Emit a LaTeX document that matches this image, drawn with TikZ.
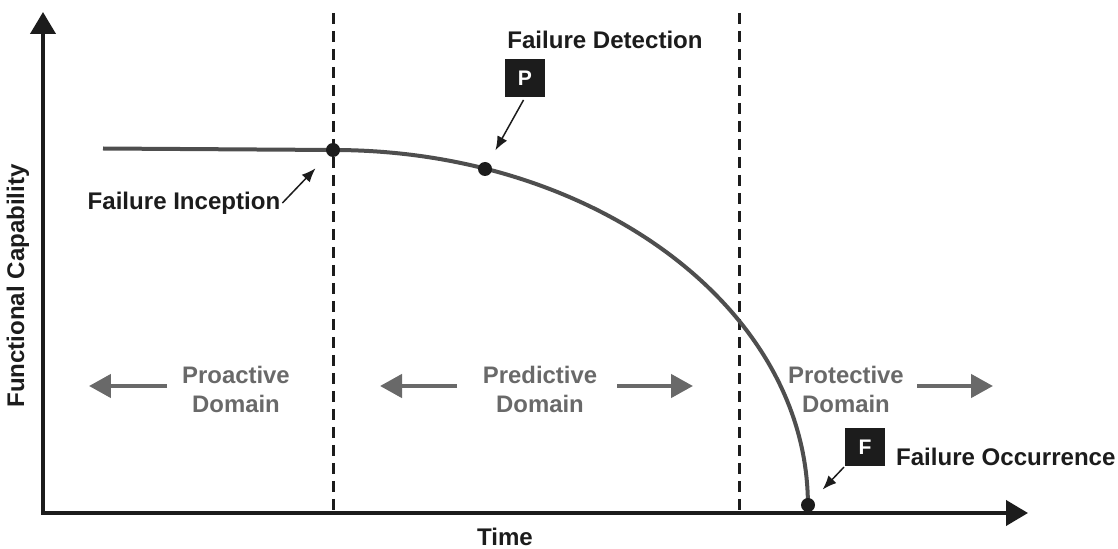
\documentclass[tikz,border=0pt]{standalone}
\usepackage{fontspec}
\setmainfont{Liberation Sans}
\usepackage{tikz}
\usetikzlibrary{arrows.meta,positioning,calc}
\definecolor{inkblack}{RGB}{28,28,28}
\definecolor{curvegray}{RGB}{78,78,78}
\definecolor{domaingray}{RGB}{105,105,105}

\begin{document}
\begin{tikzpicture}[x=0.02cm,y=0.02cm,>=Latex,every node/.style={font=\bfseries\fontsize{13.7}{16.5}\selectfont,text=inkblack,inner sep=1pt}]
\tikzstyle{dot}=[circle,fill=inkblack,inner sep=0pt,minimum size=0.28cm]
\tikzstyle{tag}=[fill=inkblack,text=white,inner sep=0pt,minimum width=0.8cm,minimum height=0.76cm,font=\bfseries\fontsize{12}{14}\selectfont]
\tikzstyle{domainlabel}=[align=center,text=domaingray,font=\bfseries\fontsize{13.6}{16.5}\selectfont]
\tikzstyle{pointer}=[-{Latex[length=0.28cm,width=0.22cm]},inkblack,line width=0.03cm]
\tikzstyle{domarrow}=[-{Triangle[length=0.44cm,width=0.46cm]},domaingray,line width=0.09cm]
\useasboundingbox (0,0) rectangle (1118,548);
% axes
\coordinate (origin) at (43,35);
\coordinate (ytip) at (43,536);
\coordinate (xtip) at (1028,35);
\foreach \x in {333,739}{\draw[inkblack,line width=0.06cm,dash pattern=on 0.22cm off 0.14cm] (\x,535) -- (\x,35);}
\draw[inkblack,line width=0.08cm,{Triangle[length=0.44cm,width=0.5cm]}-{Triangle[length=0.44cm,width=0.5cm]}] (ytip) -- (origin) -- (xtip);
\node[rotate=90] (ylabel) at (18,262) {Functional Capability};
\node (xlabel) at (505,11) {Time};
% capability curve
\draw[curvegray,line width=0.08cm] (103,399.5) -- (333,398) arc[start angle=90,end angle=0,x radius=9.5cm,y radius=7.1cm];
\node[dot] (incep) at (333,398) {};
\node[dot] (detect) at (485,379) {};
\node[dot] (occur) at (808,43) {};
% events
\node (incepttext) at (184,345) {Failure Inception};
\draw[pointer,shorten >=0.36cm] (incepttext.east) -- (incep);
\node[tag] (ptag) at (525,470) {P};
\node (detecttext) at (605,508) {Failure Detection};
\draw[pointer,shorten <=0.06cm,shorten >=0.28cm] (ptag.south) -- (detect);
\node[tag] (ftag) at (865,101) {F};
\node[anchor=west] (occurtext) at (894,91) {Failure Occurrence};
\draw[pointer,shorten <=0.02cm,shorten >=0.28cm] (ftag.south west) -- (occur);
% domains
\node[domainlabel] (proact) at (236,159) {Proactive\\Domain};
\node[domainlabel] (predict) at (540,159) {Predictive\\Domain};
\node[domainlabel] (protect) at (846,159) {Protective\\Domain};
\foreach \a/\b in {167/89,457/380,617/693,917/993}{\draw[domarrow] (\a,162) -- (\b,162);}
\end{tikzpicture}
\end{document}
